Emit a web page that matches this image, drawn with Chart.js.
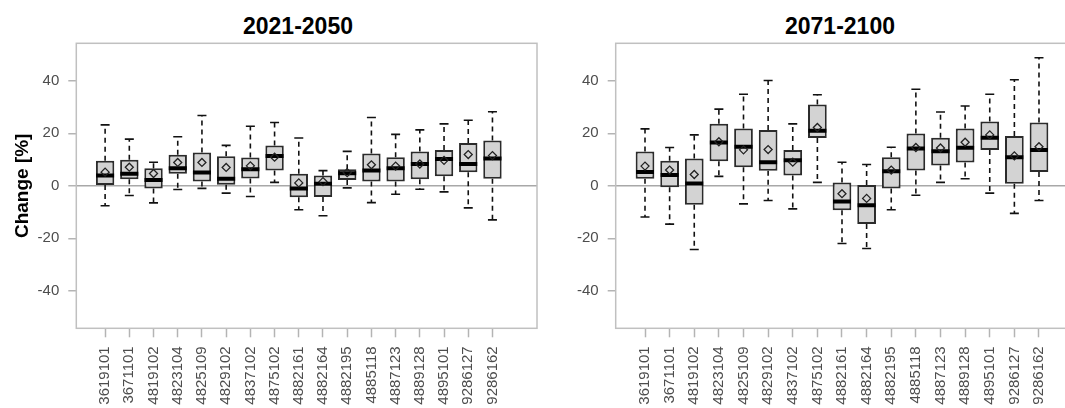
<!DOCTYPE html>
<html lang="en">
<head>
<meta charset="UTF-8">
<title>Change per station</title>
<script src="https://cdn.jsdelivr.net/npm/chart.js"></script>
<style>
  body { margin: 0; background: #fff; overflow: hidden; width: 1065px; height: 408px; position: relative; font-family: "Liberation Sans", Arial, sans-serif; }
  .panel-title { position: absolute; top: 15px; width: 240px; text-align: center; font-weight: bold; font-size: 23px; line-height: 23px; color: #000; }
  canvas { position: absolute; top: 0; }
</style>
</head>
<body>
<div class="panel-title" style="left:178px">2021-2050</div>
<div class="panel-title" style="left:720px">2071-2100</div>
<canvas id="early" width="550" height="408" style="left:0"></canvas>
<canvas id="late" width="560" height="408" style="left:545px"></canvas>

<script>
// station ids (x categories)
const stations = ['3619101', '3671101', '4819102', '4823104', '4825109', '4829102', '4837102', '4875102',
  '4882161', '4882164', '4882195', '4885118', '4887123', '4889128', '4895101', '9286127', '9286162'];
const yTicks = [-40, -20, 0, 20, 40];

// 2021-2050: whisker low, lower quartile, median, upper quartile, whisker high, mean
const lo1   = [-7.6, -3.7, -6.5, -1.4, -1.0, -2.8, -4.1, 1.3, -9.1, -11.4, -0.8, -6.4, -3.2, -1.3, -2.3, -8.4, -13.0];
const q1_1  = [0.3, 2.5, -1.0, 4.6, 1.6, 0.4, 2.8, 5.8, -4.4, -4.3, 2.2, 1.6, 1.6, 2.5, 3.6, 5.2, 2.7];
const med1  = [3.9, 4.6, 2.2, 6.7, 5.1, 2.7, 6.3, 11.4, -1.0, 0.8, 4.8, 5.8, 6.7, 8.3, 10.2, 8.3, 10.4];
const q3_1  = [9.5, 9.9, 6.7, 11.8, 12.7, 11.3, 10.8, 15.4, 4.6, 3.9, 6.3, 12.3, 10.9, 13.1, 13.6, 16.3, 17.3];
const hi1   = [23.2, 17.8, 9.0, 18.7, 26.8, 15.4, 22.7, 24.1, 18.2, 5.8, 13.1, 26.0, 19.6, 21.3, 23.6, 25.0, 28.2];
const mean1 = [5.2, 7.1, 4.7, 8.9, 8.9, 7.0, 7.6, 10.9, 1.1, 1.6, 5.0, 8.0, 7.5, 8.3, 9.7, 11.9, 11.5];

// 2071-2100
const lo2   = [-11.9, -14.6, -24.3, 3.6, -6.9, -5.6, -8.8, 1.3, -22.0, -23.9, -9.1, -3.6, 1.3, 2.7, -2.8, -10.5, -5.6];
const q1_2  = [2.7, -0.6, -7.2, 9.4, 7.1, 5.7, 3.9, 18.2, -9.3, -14.6, -1.0, 5.8, 7.7, 8.9, 13.6, 0.8, 5.3];
const med2  = [5.3, 4.1, 0.9, 16.5, 14.9, 9.0, 9.7, 21.0, -6.0, -7.4, 5.5, 14.2, 13.2, 14.5, 18.3, 10.9, 13.6];
const q3_2  = [13.1, 9.5, 10.4, 23.6, 21.8, 21.3, 13.6, 31.0, 1.3, 0.3, 10.9, 19.9, 18.3, 21.8, 24.5, 19.0, 24.1];
const hi2   = [21.7, 14.6, 19.4, 29.2, 34.9, 40.1, 23.6, 34.7, 9.0, 8.1, 14.7, 36.8, 28.1, 30.4, 34.9, 40.4, 48.8];
const mean2 = [7.5, 6.0, 4.3, 16.8, 13.7, 13.8, 9.0, 22.2, -3.0, -4.8, 6.0, 14.6, 14.4, 16.6, 19.4, 11.4, 14.9];

const tickGrey = '#4d4d4d';
const lineGrey = '#b4b4b4';

// grey box round the plot region, like R's box()
const framePlugin = {
  id: 'frame',
  afterDraw(chart) {
    const a = chart.chartArea, ctx = chart.ctx;
    ctx.save();
    ctx.strokeStyle = '#c0c0c0';
    ctx.lineWidth = 1.5;
    ctx.strokeRect(a.left, a.top, a.right - a.left, a.bottom - a.top);
    ctx.restore();
  }
};

function makeBoxplot(id, lo, q1, med, q3, hi, mean, o) {
  const boxes = stations.map((s, i) => ({ x: i, y: [q1[i], q3[i]] }));
  const medians = stations.map((s, i) => ({ x: i, y: med[i] }));
  const means = stations.map((s, i) => ({ x: i, y: mean[i] }));
  const caps = [];
  const whiskers = [];
  stations.forEach((s, i) => {
    caps.push({ x: i, y: hi[i] }, { x: i, y: lo[i] });
    whiskers.push({ x: i, y: q3[i] }, { x: i, y: hi[i] }, { x: i, y: null });
    whiskers.push({ x: i, y: q1[i] }, { x: i, y: lo[i] }, { x: i, y: null });
  });

  return new Chart(document.getElementById(id), {
    type: 'bar',
    data: {
      datasets: [
        {
          type: 'line', data: whiskers, order: 5,
          borderColor: '#111', borderWidth: 1.6, borderDash: [5, 4],
          pointRadius: 0, spanGaps: false, fill: false
        },
        {
          type: 'scatter', data: caps, order: 4,
          pointStyle: 'line', pointRadius: 4.5, borderColor: '#111', borderWidth: 1.6
        },
        {
          data: boxes, order: 3,
          backgroundColor: '#d3d3d3', borderColor: '#2b2b2b', borderWidth: 2, borderSkipped: false,
          barPercentage: 0.76, categoryPercentage: 1
        },
        {
          type: 'scatter', data: medians, order: 2,
          pointStyle: 'line', pointRadius: 9, borderColor: '#000', borderWidth: 4
        },
        {
          type: 'scatter', data: means, order: 1,
          pointStyle: 'rectRot', pointRadius: 4, backgroundColor: 'rgba(0,0,0,0)',
          borderColor: '#222', borderWidth: 1.3
        }
      ]
    },
    options: {
      responsive: false,
      animation: false,
      layout: { padding: { top: 43.3, bottom: 0, left: 0, right: o.padRight } },
      plugins: { legend: { display: false }, tooltip: { enabled: false } },
      scales: {
        x: {
          type: 'linear', offset: false, min: -1.19, max: 17.84,
          afterBuildTicks: sc => { sc.ticks = stations.map((s, i) => ({ value: i })); },
          afterFit: sc => { sc.height = 79.7; },
          ticks: {
            callback: v => stations[v], minRotation: 90, maxRotation: 90, autoSkip: false,
            color: tickGrey, padding: 9, font: { family: 'Liberation Sans', size: 15 }
          },
          grid: { offset: false, drawOnChartArea: false, tickLength: 9, tickColor: lineGrey, tickWidth: 1.5 },
          border: { display: false }
        },
        y: {
          min: -54.3, max: 54.3,
          afterBuildTicks: sc => { sc.ticks = yTicks.map(v => ({ value: v })); },
          afterFit: sc => { sc.width = o.yWidth; },
          ticks: { color: tickGrey, padding: 9, font: { family: 'Liberation Sans', size: 15 } },
          grid: {
            color: c => (c.tick && c.tick.value === 0 ? '#a8a8a8' : 'rgba(0,0,0,0)'),
            lineWidth: 1.5, tickLength: 8, tickColor: lineGrey, tickWidth: 1.5
          },
          border: { display: false },
          title: {
            display: o.yTitle, text: 'Change [%]', color: '#000',
            padding: { top: 11, bottom: 0 },
            font: { family: 'Liberation Sans', size: 19, weight: 'bold' }
          }
        }
      }
    },
    plugins: [framePlugin]
  });
}

makeBoxplot('early', lo1, q1_1, med1, q3_1, hi1, mean1, { yWidth: 76.3, padRight: 9.3, yTitle: true });
makeBoxplot('late', lo2, q1_2, med2, q3_2, hi2, mean2, { yWidth: 70.7, padRight: 20.7, yTitle: false });
</script>
</body>
</html>
